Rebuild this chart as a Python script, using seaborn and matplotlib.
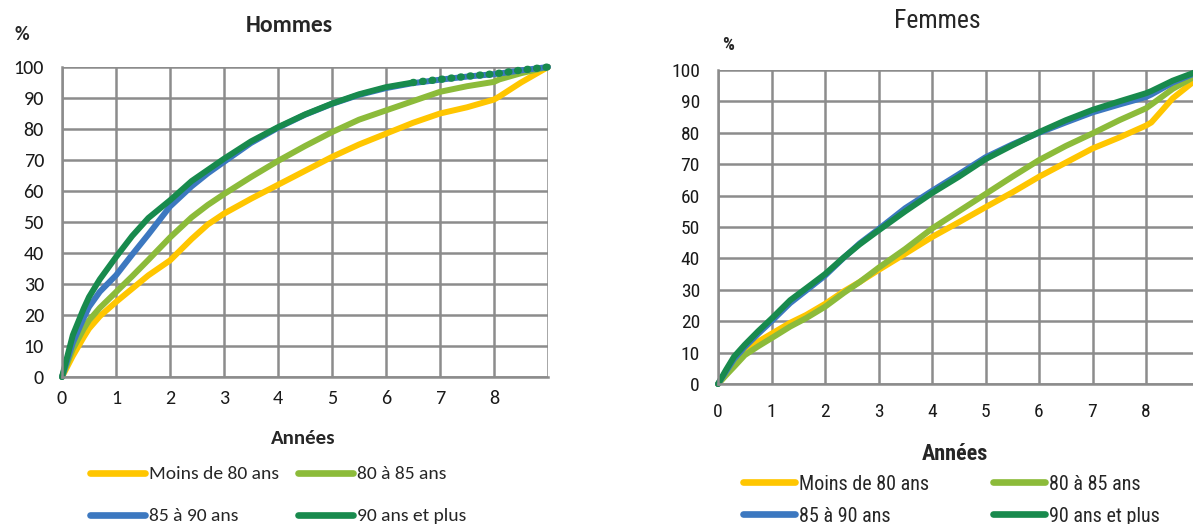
import matplotlib
matplotlib.use("Agg")
import matplotlib.pyplot as plt
from matplotlib import font_manager as fm
from matplotlib.lines import Line2D
import seaborn as sns
import pandas as pd

# ---------------- data ----------------
series_names = ["Moins de 80 ans", "80 à 85 ans", "85 à 90 ans", "90 ans et plus"]
x_tick_labels = ["0", "1", "2", "3", "4", "5", "6", "7", "8"]

years_h = [0, 0.2, 0.4, 0.5, 0.7, 1, 1.3, 1.6, 2, 2.4, 2.7, 3, 3.5, 4, 4.5, 5, 5.5, 6, 6.5, 7, 7.5, 8, 8.1, 8.5, 9]
hommes_moins80 = [0, 6.8, 12.8, 15.6, 19.6, 24.2, 28.5, 32.8, 37.6, 44.5, 49.2, 52.7, 57.5, 62, 66.5, 71, 75, 78.5, 82, 85, 87, 89.5, 90.5, 95, 100]
hommes_80_85 = [0, 9, 15.5, 18.3, 22.3, 27.4, 32.5, 37.8, 45, 51.5, 55.5, 59, 64.5, 69.7, 74.5, 79, 83, 86, 89, 92, 93.8, 95.2, 96, 98, 100]
hommes_85_90 = [0, 11, 19, 22.6, 27.5, 32.8, 39.5, 46, 55, 61.5, 65.7, 69.4, 75.5, 80.4, 84.6, 88.1, 91, 93.2, 94.8, 95.9, 96.9, 97.7, 97.9, 98.9, 100]
hommes_90plus = [0, 13.5, 22, 25.8, 31.5, 38.7, 45.5, 51.3, 57, 63.2, 66.8, 70.4, 76, 80.6, 84.7, 88.2, 91.2, 93.5, 95, 96, 97, 97.8, 98, 99, 100]

years_f = [0, 0.15, 0.3, 0.5, 0.75, 1, 1.35, 1.65, 2, 2.35, 2.65, 3, 3.5, 4, 4.5, 5, 5.5, 6, 6.5, 7, 7.5, 8, 8.1, 8.5, 9]
femmes_moins80 = [0, 3, 6.5, 10.5, 13.5, 16, 19.5, 22, 25.5, 29.5, 32.5, 36.3, 41.5, 46.8, 51.5, 56.3, 61, 66, 70.5, 75, 78.5, 82.3, 83.3, 91, 97.8]
femmes_80_85 = [0, 2.8, 5.5, 9.2, 12, 14.6, 18.3, 21, 24.6, 29, 32.5, 37, 43, 49.5, 55, 60.5, 66, 71.3, 75.8, 79.8, 84, 87.8, 89, 94, 98.8]
femmes_85_90 = [0, 4, 8, 11.8, 16, 20, 25.8, 29.8, 34.5, 40.2, 44.8, 49.3, 56, 61.5, 66.8, 72.2, 76.3, 80, 83.3, 86.5, 89, 91.4, 92.2, 96, 99.6]
femmes_90plus = [0, 4.5, 8.7, 12.5, 16.8, 20.8, 26.7, 30.5, 35, 40.3, 44.5, 48.9, 55, 60.8, 66, 71.6, 76, 80.2, 84, 87.3, 90, 92.6, 93.3, 96.6, 99.8]

colors = ["#FFC600", "#8CBB3A", "#3C78C0", "#188A4D"]
grid_color = "#8C8C8C"


def pick(names):
    for n in names:
        try:
            fm.findfont(fm.FontProperties(family=n), fallback_to_default=False)
            return n
        except Exception:
            pass
    return "DejaVu Sans"


sns.set_style("white")
font_left = pick(["Carlito", "Lato", "Open Sans"])
font_right = pick(["Liberation Sans Narrow", "Roboto Condensed", "Open Sans Condensed", "Roboto"])
plt.rcParams["font.family"] = [font_left, "DejaVu Sans"]

W, H = 1193, 524
fig = plt.figure(figsize=(W / 100, H / 100), dpi=100)


def fx(px):
    return px / W


def fy(py):
    return 1 - py / H


ax_h = fig.add_axes([fx(62), fy(377), fx(548) - fx(62), fy(67) - fy(377)])
ax_f = fig.add_axes([fx(718), fy(384), fx(1199.5) - fx(718), fy(70) - fy(384)])

LW = 4.3


def style_axes(ax, font, size, xpad, ypad):
    ax.set_xlim(0, 9)
    ax.set_ylim(0, 100)
    ax.set_xticks(range(0, 10))
    ax.set_xticklabels(x_tick_labels + [""], fontfamily=font, fontsize=size, color="#1a1a1a")
    ax.set_yticks(range(0, 101, 10))
    ax.set_yticklabels([str(v) for v in range(0, 101, 10)], fontfamily=font, fontsize=size, color="#1a1a1a")
    ax.grid(True, color=grid_color, lw=1.8)
    ax.set_axisbelow(True)
    for s in ["top", "right"]:
        ax.spines[s].set_visible(False)
    for s in ["left", "bottom"]:
        ax.spines[s].set_color(grid_color)
        ax.spines[s].set_linewidth(1.8)
    ax.tick_params(axis="y", length=6, width=1.8, color=grid_color, pad=ypad)
    ax.tick_params(axis="x", length=0, pad=xpad)
    ax.set_xlabel("")
    ax.set_ylabel("")


# ---- Hommes ----
df_h = pd.DataFrame({"t": years_h, "s0": hommes_moins80, "s1": hommes_80_85,
                     "s2": hommes_85_90, "s3": hommes_90plus})
for i, col in enumerate(["s0", "s1", "s2"]):
    sns.lineplot(data=df_h, x="t", y=col, ax=ax_h, color=colors[i], lw=LW,
                 clip_on=False, solid_capstyle="round", solid_joinstyle="round")
solid = df_h[df_h["t"] <= 6.5]
dots = df_h[df_h["t"] >= 6.5]
sns.lineplot(data=solid, x="t", y="s3", ax=ax_h, color=colors[3], lw=LW,
             clip_on=False, solid_capstyle="round", solid_joinstyle="round")
sns.lineplot(data=dots, x="t", y="s3", ax=ax_h, color=colors[3], lw=LW + 1.0,
             clip_on=False, linestyle=(0, (0.1, 1.2)), dash_capstyle="round")
style_axes(ax_h, font_left, 14.5, 9, 7)

# ---- Femmes ----
df_f = pd.DataFrame({"t": years_f, "s0": femmes_moins80, "s1": femmes_80_85,
                     "s2": femmes_85_90, "s3": femmes_90plus})
for i, col in enumerate(["s0", "s1", "s2", "s3"]):
    sns.lineplot(data=df_f, x="t", y=col, ax=ax_f, color=colors[i], lw=LW,
                 clip_on=False, solid_capstyle="round", solid_joinstyle="round")
style_axes(ax_f, font_right, 14, 14, 7)

# ---- titles & labels ----
fig.text(fx(289), fy(25), "Hommes", ha="center", va="center", fontsize=17,
         fontweight="bold", fontfamily=font_left)
fig.text(fx(22), fy(35), "%", ha="center", va="center", fontsize=14.5,
         fontweight="bold", fontfamily=font_left)
fig.text(fx(303), fy(438), "Années", ha="center", va="center", fontsize=15,
         fontweight="bold", fontfamily=font_left)

fig.text(fx(937), fy(21), "Femmes", ha="center", va="center", fontsize=18.5,
         fontfamily=font_right)
fig.text(fx(728), fy(45), "%", ha="center", va="center", fontsize=13.5,
         fontweight="bold", fontfamily=font_right)
fig.text(fx(955), fy(454), "Années", ha="center", va="center", fontsize=16,
         fontweight="bold", fontfamily=font_right)


# ---- legends ----
def add_entry(idx, px, py, font, size, hlen):
    h = Line2D([], [], color=colors[idx], lw=LW + 0.5, solid_capstyle="round")
    fig.legend(handles=[h], labels=[series_names[idx]], loc="center left",
               bbox_to_anchor=(fx(px), fy(py)), frameon=False, borderpad=0,
               borderaxespad=0, handlelength=hlen, handletextpad=0.2,
               prop={"family": font, "size": size})


add_entry(0, 90, 474, font_left, 14, 2.85)
add_entry(1, 298, 474, font_left, 14, 2.85)
add_entry(2, 90, 516, font_left, 14, 2.85)
add_entry(3, 298, 516, font_left, 14, 2.85)

add_entry(0, 743, 484, font_right, 14.5, 2.6)
add_entry(1, 993, 484, font_right, 14.5, 2.6)
add_entry(2, 743, 516, font_right, 14.5, 2.6)
add_entry(3, 993, 516, font_right, 14.5, 2.6)

fig.savefig("out.png", dpi=100)
